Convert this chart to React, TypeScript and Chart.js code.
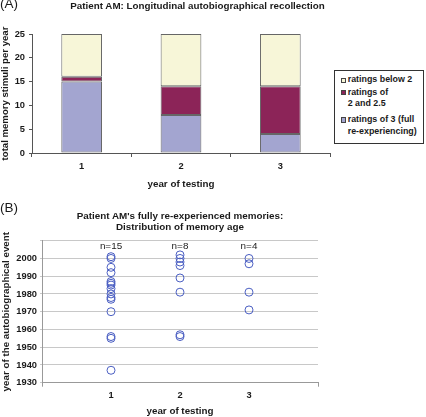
import React, { useEffect, useRef } from "react";
import { Chart, registerables } from "chart.js";

Chart.register(...registerables);

// ---------- data ----------
const testYears = ["1", "2", "3"];
const ratings3Full = [15, 8, 4];
const ratings2And25 = [1, 6, 10];
const ratingsBelow2 = [9, 11, 11];

const memoryYearsTest1 = [2001, 2000, 1995, 1992, 1987, 1986, 1985, 1983, 1980, 1978, 1977, 1970, 1956, 1955, 1937];
const memoryYearsTest2 = [2002, 2000, 1998, 1996, 1989, 1981, 1957, 1956];
const memoryYearsTest3 = [2000, 1997, 1981, 1971];
const nLabels = ["n=15", "n=8", "n=4"];
const nLabelYear = 2007;

const legendLines = [["ratings below 2"], ["ratings of", "2 and 2.5"], ["ratings of 3 (full", "re-experiencing)"]];

// ---------- styles ----------
const FONT = "'Liberation Sans', Arial, Helvetica, sans-serif";
const TEXT = "#1a1a1a";
const BLUE = "#a3a5d0";
const MAROON = "#8c2458";
const YELLOW = "#f7f6d8";
const POINT = "#4b5fc2";
const tickFont = { family: FONT, size: 9.3, weight: "bold" as const };
const titleFont = { family: FONT, size: 9.8, weight: "bold" as const };

const nLabelPlugin = {
  id: "nLabels",
  afterDatasetsDraw(chart: any) {
    const { ctx, scales } = chart;
    ctx.save();
    ctx.font = `9.9px ${FONT}`;
    ctx.fillStyle = "#222";
    ctx.textAlign = "center";
    ctx.textBaseline = "middle";
    nLabels.forEach((t, i) => {
      ctx.fillText(t, scales.x.getPixelForValue(i + 1), scales.y.getPixelForValue(nLabelYear));
    });
    ctx.restore();
  },
};

export default function App() {
  const refA = useRef<HTMLCanvasElement>(null);
  const refB = useRef<HTMLCanvasElement>(null);

  useEffect(() => {
    const barStyle = { borderColor: "#666", borderWidth: 1, borderSkipped: false as const };
    const chartA = new Chart(refA.current!, {
      type: "bar",
      data: {
        labels: testYears,
        datasets: [
          { label: legendLines[2].join(" "), data: ratings3Full, backgroundColor: BLUE, ...barStyle },
          { label: legendLines[1].join(" "), data: ratings2And25, backgroundColor: MAROON, ...barStyle },
          { label: legendLines[0].join(" "), data: ratingsBelow2, backgroundColor: YELLOW, ...barStyle },
        ],
      },
      options: {
        animation: false,
        responsive: false,
        maintainAspectRatio: false,
        layout: { padding: { left: 0, right: 96, top: 34, bottom: 0 } },
        datasets: { bar: { categoryPercentage: 1, barPercentage: 0.41 } },
        plugins: { legend: { display: false }, tooltip: { enabled: false }, title: { display: false } },
        scales: {
          x: {
            stacked: true,
            grid: { display: true, drawOnChartArea: false, drawTicks: true, tickLength: 4, offset: true, color: "#555" },
            border: { color: "#555", width: 1 },
            ticks: { font: tickFont, color: TEXT, padding: 4 },
            title: { display: true, text: "year of testing", font: titleFont, color: TEXT, padding: { top: 0, bottom: 10 } },
            afterFit: (s: any) => { s.height = 47; },
          },
          y: {
            stacked: true,
            min: 0,
            max: 25,
            ticks: { stepSize: 5, font: tickFont, color: TEXT, padding: 4 },
            grid: { display: true, drawOnChartArea: false, tickLength: 3, color: "#555" },
            border: { color: "#555", width: 1 },
            title: { display: true, text: "total memory stimuli per year", font: { ...titleFont, size: 9.6 }, color: TEXT, padding: { top: 0, bottom: 0 } },
            afterFit: (s: any) => { s.width = 32; },
          },
        },
      } as any,
    });

    const pointStyle = {
      pointStyle: "circle" as const,
      pointRadius: 4,
      pointBorderWidth: 1,
      pointBorderColor: POINT,
      pointBackgroundColor: "rgba(0,0,0,0)",
      showLine: false,
    };
    const series = [memoryYearsTest1, memoryYearsTest2, memoryYearsTest3];
    const chartB = new Chart(refB.current!, {
      type: "scatter",
      data: {
        datasets: series.map((ys, i) => ({
          label: `year ${testYears[i]}`,
          data: ys.map((y) => ({ x: Number(testYears[i]), y })),
          ...pointStyle,
        })),
      },
      options: {
        animation: false,
        responsive: false,
        maintainAspectRatio: false,
        layout: { padding: { left: 0, right: 108, top: 40.7, bottom: 0 } },
        plugins: { legend: { display: false }, tooltip: { enabled: false }, title: { display: false } },
        scales: {
          x: {
            type: "linear",
            min: 0,
            max: 4,
            ticks: {
              stepSize: 1,
              font: tickFont,
              color: TEXT,
              padding: 3,
              callback: (v: any) => (testYears.includes(String(v)) ? String(v) : ""),
            },
            grid: {
              display: true,
              drawOnChartArea: false,
              tickLength: 4,
              color: (c: any) => (c.tick && (c.tick.value === 0 || c.tick.value === 4) ? "#999" : "rgba(0,0,0,0)"),
            },
            border: { color: "#999", width: 1 },
            title: { display: true, text: "year of testing", font: titleFont, color: TEXT, padding: { top: 0, bottom: 0 } },
            afterFit: (s: any) => { s.height = 34.3; },
          },
          y: {
            min: 1930,
            max: 2010,
            ticks: {
              stepSize: 10,
              font: tickFont,
              color: TEXT,
              padding: 3,
              callback: (v: any) => (v === 2010 ? "" : String(v)),
            },
            grid: { display: true, color: "#c8c8c8", tickLength: 2 },
            border: { color: "#999", width: 1 },
            title: { display: true, text: "year of the autobiographical event", font: titleFont, color: TEXT, padding: { top: 0, bottom: 0 } },
            afterFit: (s: any) => { s.width = 42; },
          },
        },
      } as any,
      plugins: [nLabelPlugin],
    });

    return () => {
      chartA.destroy();
      chartB.destroy();
    };
  }, []);

  const abs = (o: any): React.CSSProperties => ({ position: "absolute", fontFamily: FONT, color: TEXT, whiteSpace: "nowrap", ...o });
  const legendColors = [YELLOW, MAROON, BLUE];
  const legendTops = [74.3, 86.5, 114.2];

  return (
    <div style={{ position: "fixed", left: 0, top: 0, width: 426, height: 417, background: "#fff", overflow: "hidden" }}>
      <canvas ref={refA} width={426} height={200} style={{ position: "absolute", left: 0, top: 0, width: 426, height: 200 }} />
      <canvas ref={refB} width={426} height={217} style={{ position: "absolute", left: 0, top: 200, width: 426, height: 217 }} />

      <div style={abs({ left: 0, top: -2.7, fontSize: 13.5, lineHeight: "14px" })}>(A)</div>
      <div style={abs({ left: 0, top: 0, width: 395, textAlign: "center", fontSize: 9.8, fontWeight: "bold", lineHeight: "12.6px" })}>
        Patient AM: Longitudinal autobiographical recollection
      </div>

      <div style={{ position: "absolute", left: 334, top: 70, width: 88, height: 72, border: "1px solid #333", background: "#fff" }} />
      {legendLines.map((lines, i) => (
        <div key={i} style={abs({ left: 347.7, top: legendTops[i], fontSize: 8.9, fontWeight: "bold", lineHeight: "11.6px" })}>
          <span style={{ position: "absolute", left: -7, top: 3.3, width: 3.5, height: 3.5, border: "1px solid #444", background: legendColors[i] }} />
          {lines.map((l, j) => (
            <div key={j}>{l}</div>
          ))}
        </div>
      ))}

      <div style={abs({ left: 0, top: 200.5, fontSize: 13.5, lineHeight: "14px" })}>(B)</div>
      <div style={abs({ left: 0, top: 209.9, width: 360, textAlign: "center", fontSize: 9.85, fontWeight: "bold", lineHeight: "11.6px" })}>
        <div>Patient AM's fully re-experienced memories:</div>
        <div>Distribution of memory age</div>
      </div>
    </div>
  );
}
